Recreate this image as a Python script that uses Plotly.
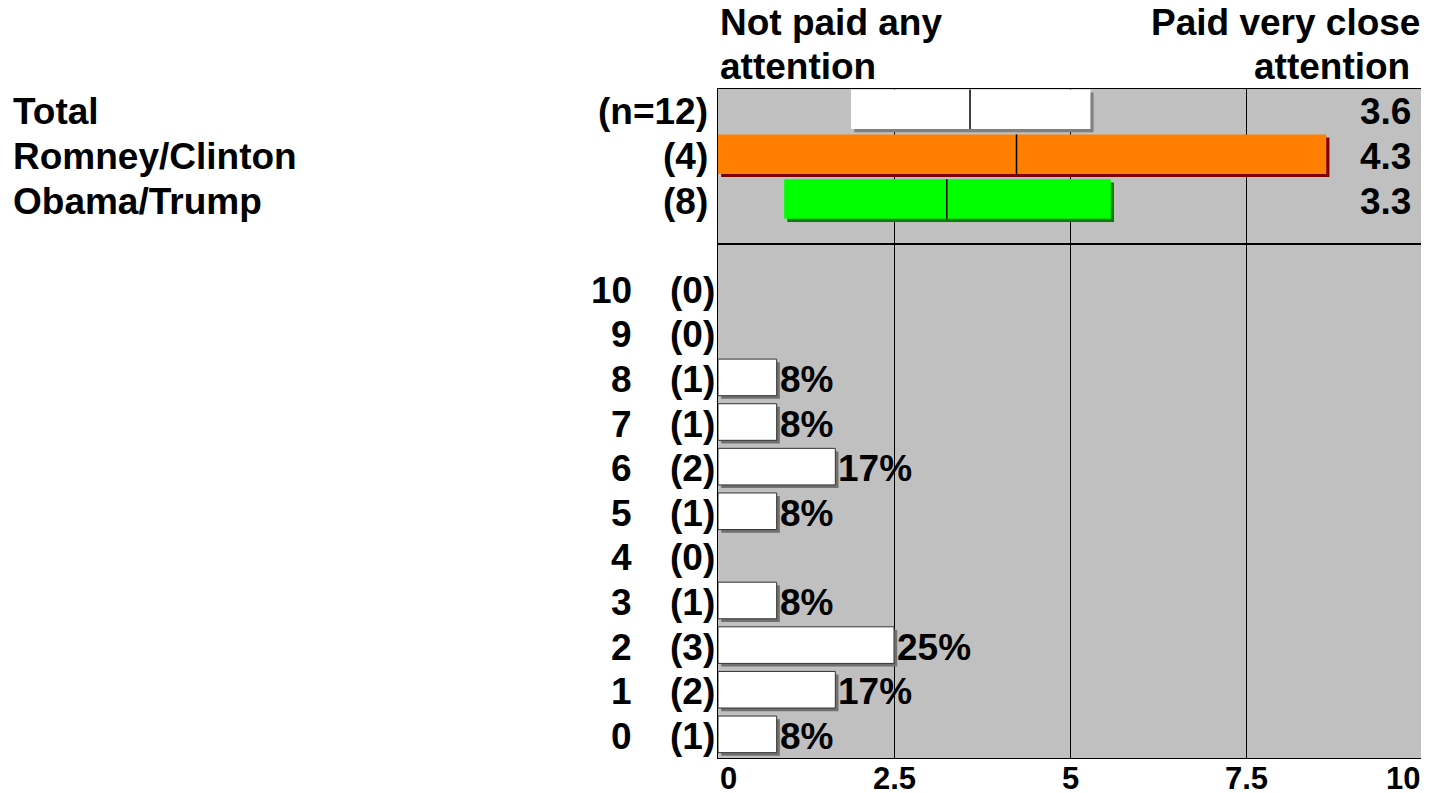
import plotly.graph_objects as go
from plotly.subplots import make_subplots

# top panel: group summaries
groups = ["Total", "Romney/Clinton", "Obama/Trump"]
group_n = ["(n=12)", "(4)", "(8)"]
box_low = [1.89, 0.0, 0.94]
box_high = [5.29, 8.64, 5.58]
box_median = [3.58, 4.24, 3.25]
group_mean = [3.6, 4.3, 3.3]
box_fill = ["#FFFFFF", "#FF8000", "#00FF00"]
box_shadow = ["#808080", "#800000", "#008000"]

# bottom panel: distribution of scores
scores = [10, 9, 8, 7, 6, 5, 4, 3, 2, 1, 0]
counts = [0, 0, 1, 1, 2, 1, 0, 1, 3, 2, 1]
total_n = 12

tick_vals = [0, 2.5, 5, 7.5, 10]
tick_text = ["0", "2.5", "5", "7.5", "10"]

FONT = "Liberation Sans, Arial, sans-serif"
BIG = 37

pct = [c / total_n * 100 for c in counts]
bar_len = [p / 10 if p > 0 else None for p in pct]
pct_lbl = [f"{round(p)}%" for p in pct]

fig = make_subplots(rows=2, cols=1, row_heights=[155, 514], vertical_spacing=0)

rows = list(range(len(groups)))
spans = [h - l for l, h in zip(box_low, box_high)]

# shadows then boxes
fig.add_trace(go.Bar(orientation="h", y=rows, x=spans, base=[l + 0.045 for l in box_low],
                     width=0.88, offset=-0.44 + 0.07, marker=dict(color=box_shadow, line_width=0),
                     hoverinfo="skip", showlegend=False), row=1, col=1)
fig.add_trace(go.Bar(orientation="h", y=rows, x=spans, base=box_low,
                     width=0.88, offset=-0.44, marker=dict(color=box_fill, line_width=0),
                     showlegend=False), row=1, col=1)
for i, m in enumerate(box_median):
    fig.add_trace(go.Scatter(x=[m, m], y=[i - 0.44, i + 0.44], mode="lines",
                             line=dict(color="black", width=1.5), showlegend=False,
                             hoverinfo="skip"), row=1, col=1)

fig.add_trace(go.Bar(orientation="h", y=scores, x=bar_len, base=0.045,
                     width=0.82, offset=-0.41 - 0.07, marker=dict(color="#707070", line_width=0),
                     hoverinfo="skip", showlegend=False), row=2, col=1)
fig.add_trace(go.Bar(orientation="h", y=scores, x=bar_len, base=0,
                     width=0.82, offset=-0.41,
                     marker=dict(color="white", line=dict(color="#333333", width=1)),
                     showlegend=False), row=2, col=1)

ann = []
txt = dict(family=FONT, size=BIG, color="black")
for i, g in enumerate(groups):
    ann.append(dict(x=0, xref="paper", y=i, yref="y", text=f"<b>{g}</b>", showarrow=False,
                    xanchor="left", xshift=-707, yshift=-2, font=txt))
    ann.append(dict(x=0, xref="paper", y=i, yref="y", text=f"<b>{group_n[i]}</b>", showarrow=False,
                    xanchor="right", xshift=-8, yshift=-2, font=txt))
    ann.append(dict(x=10, xref="x", y=i, yref="y", text=f"<b>{group_mean[i]:.1f}</b>", showarrow=False,
                    xanchor="right", xshift=-9, yshift=-2, font=txt))

for s, c, L, lbl in zip(scores, counts, bar_len, pct_lbl):
    ann.append(dict(x=0, xref="paper", y=s, yref="y2", text=f"<b>{s}</b>", showarrow=False,
                    xanchor="right", xshift=-84, yshift=-2, font=txt))
    ann.append(dict(x=0, xref="paper", y=s, yref="y2", text=f"<b>({c})</b>", showarrow=False,
                    xanchor="right", xshift=-1, yshift=-2, font=txt))
    if L:
        ann.append(dict(x=L, xref="x2", y=s, yref="y2", text=f"<b>{lbl}</b>", showarrow=False,
                        xanchor="left", xshift=1, yshift=-2, font=txt))

for v, t in zip(tick_vals, tick_text):
    anc = "left" if v == tick_vals[0] else ("right" if v == tick_vals[-1] else "center")
    ann.append(dict(x=v, xref="x2", y=0, yref="paper", text=f"<b>{t}</b>", showarrow=False,
                    xanchor=anc, yanchor="top", yshift=-1,
                    font=dict(family=FONT, size=31, color="black")))

head = dict(family=FONT, size=BIG, color="black")
ann.append(dict(x=0, xref="paper", y=1, yref="paper", text="<b>Not paid any</b>",
                showarrow=False, xanchor="left", yanchor="bottom", yshift=44, font=head))
ann.append(dict(x=0, xref="paper", y=1, yref="paper", text="<b>attention</b>",
                showarrow=False, xanchor="left", yanchor="bottom", yshift=0, font=head))
ann.append(dict(x=1, xref="paper", y=1, yref="paper", text="<b>Paid very close</b>",
                showarrow=False, xanchor="right", yanchor="bottom", yshift=44, font=head))
ann.append(dict(x=1, xref="paper", y=1, yref="paper", text="<b>attention</b>",
                showarrow=False, xanchor="right", yanchor="bottom", yshift=0, xshift=-10, font=head))

axis_common = dict(range=[0, 10], dtick=2.5, tick0=0, showgrid=True, gridcolor="black", gridwidth=1,
                   showticklabels=False, ticks="", zeroline=False, showline=True, mirror=True,
                   linecolor="black", linewidth=1)
fig.update_xaxes(**axis_common)
fig.update_yaxes(showticklabels=False, showgrid=False, zeroline=False, ticks="",
                 showline=True, mirror=True, linecolor="black", linewidth=1)
fig.update_yaxes(range=[3.0, -0.45], row=1, col=1)
fig.update_yaxes(range=[-0.53, 10.99], row=2, col=1)

# page body has an 8px margin, so the figure is sized and offset to suit
fig.update_layout(
    width=1421, height=785,
    margin=dict(l=710, r=7, t=81, b=35),
    plot_bgcolor="#C0C0C0", paper_bgcolor="white",
    barmode="overlay", showlegend=False,
    annotations=ann,
    font=dict(family=FONT),
)

fig.write_html("out.html")
